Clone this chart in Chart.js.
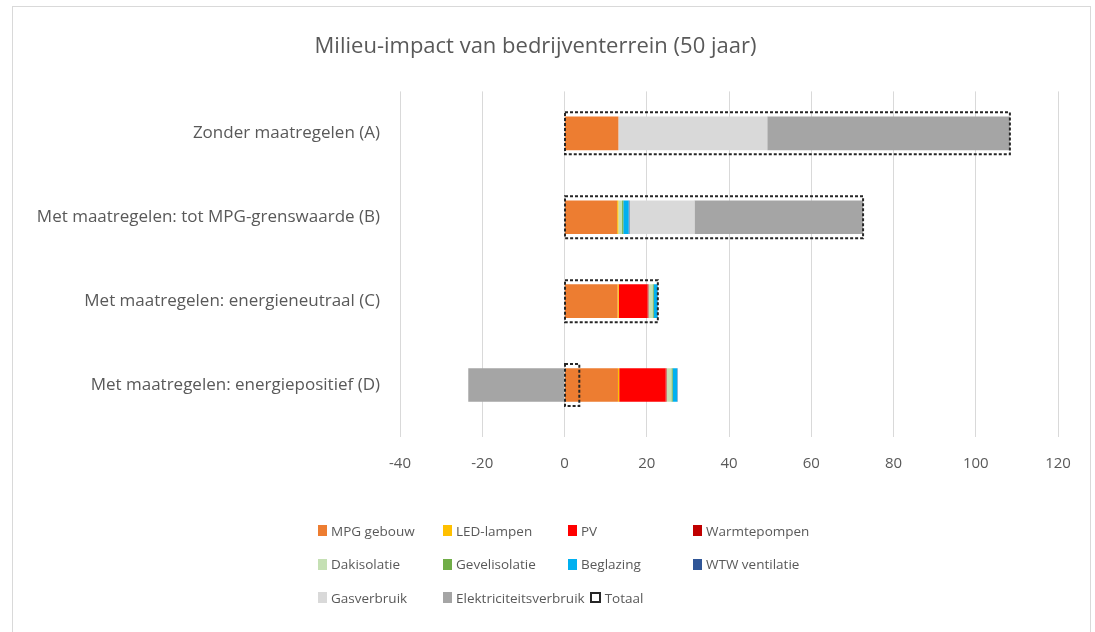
<!DOCTYPE html>
<html>
<head>
<meta charset="utf-8">
<script src="https://cdn.jsdelivr.net/npm/chart.js@4"></script>
<style>
  body { margin: 0; background: #fff; font-family: "Open Sans", sans-serif; }
  #frame { position: absolute; left: 12px; top: 6px; width: 1077px; height: 640px; border: 1px solid #d9d9d9; }
  #wrap { position: absolute; left: 0; top: 0; width: 1077px; height: 625px; }
  #legend { position: absolute; left: 305px; top: 507px; color: #595959; font-size: 13.5px; }
  .row { display: flex; height: 33.5px; align-items: center; }
  .item { display: flex; align-items: center; min-width: 125px; padding-right: 5px; box-sizing: border-box; white-space: nowrap; }
  .box { width: 9px; height: 11px; margin-right: 4px; box-sizing: border-box; }
</style>
</head>
<body>
<div id="frame">
  <div id="wrap"><canvas id="myChart"></canvas></div>
  <div id="legend"></div>
</div>
<script>
// categorieen en waarden
const categories = [
  "Zonder maatregelen (A)",
  "Met maatregelen: tot MPG-grenswaarde (B)",
  "Met maatregelen: energieneutraal (C)",
  "Met maatregelen: energiepositief (D)"
];
const mpgGebouw = [13.1, 12.8, 12.9, 13.0];
const ledLampen = [0, 0.3, 0.3, 0.3];
const pv = [0, 0, 7.0, 11.3];
const warmtepompen = [0, 0, 0.2, 0.2];
const dakisolatie = [0, 0.9, 1.0, 1.2];
const gevelisolatie = [0, 0.3, 0.3, 0.3];
const beglazing = [0, 1.3, 0.9, 1.1];
const wtwVentilatie = [0, 0.2, 0.1, 0.1];
const gasverbruik = [36.2, 15.8, 0, 0];
const elektriciteit = [59.0, 41.0, 0, -23.4];
const totaal = [108.3, 72.6, 22.7, 3.6];
const xTicks = [-40, -20, 0, 20, 40, 60, 80, 100, 120];

const series = [
  ["MPG gebouw", mpgGebouw, "#ED7D31"],
  ["LED-lampen", ledLampen, "#FFC000"],
  ["PV", pv, "#FF0000"],
  ["Warmtepompen", warmtepompen, "#C00000"],
  ["Dakisolatie", dakisolatie, "#C5E0B4"],
  ["Gevelisolatie", gevelisolatie, "#70AD47"],
  ["Beglazing", beglazing, "#00B0F0"],
  ["WTW ventilatie", wtwVentilatie, "#2F5597"],
  ["Gasverbruik", gasverbruik, "#D9D9D9"],
  ["Elektriciteitsverbruik", elektriciteit, "#A5A5A5"]
];

const datasets = [];
series.forEach(s => {
  datasets.push({
    label: s[0], data: s[1], backgroundColor: s[2],
    stack: "main", barPercentage: 0.4, categoryPercentage: 1
  });
});
datasets.push({
  label: "Totaal", data: totaal, backgroundColor: "rgba(0,0,0,0)",
  stack: "totaal", grouped: false, maxBarThickness: 42
});

// stippellijn rond totaal
const dashedTotal = {
  id: "dashedTotal",
  afterDatasetsDraw(chart) {
    const meta = chart.getDatasetMeta(datasets.length - 1);
    const ctx = chart.ctx;
    ctx.save();
    ctx.strokeStyle = "#262626";
    ctx.lineWidth = 2;
    ctx.setLineDash([3, 2]);
    meta.data.forEach(el => {
      const p = el.getProps(["x", "y", "base", "height"], true);
      const x0 = Math.min(p.x, p.base), x1 = Math.max(p.x, p.base);
      ctx.strokeRect(x0, p.y - p.height / 2, x1 - x0, p.height);
    });
    ctx.restore();
  }
};

new Chart("myChart", {
  type: "bar",
  data: { labels: categories, datasets: datasets },
  plugins: [dashedTotal],
  options: {
    indexAxis: "y",
    responsive: true,
    maintainAspectRatio: false,
    animation: false,
    layout: { padding: { top: 0, right: 32, bottom: 141, left: 0 } },
    plugins: {
      legend: { display: false },
      tooltip: { enabled: false },
      title: {
        display: true,
        text: "Milieu-impact van bedrijventerrein (50 jaar)",
        color: "#595959",
        font: { family: "Open Sans", size: 22, weight: "normal" },
        padding: { top: 27, bottom: 31 }
      }
    },
    scales: {
      x: {
        stacked: true,
        min: -40, max: 120,
        afterBuildTicks: s => { s.ticks = xTicks.map(v => ({ value: v })); },
        grid: { color: "#d9d9d9", tickLength: 10, tickColor: "#d9d9d9" },
        border: { display: false },
        ticks: { color: "#595959", padding: 18, font: { family: "Open Sans", size: 15 } }
      },
      y: {
        stacked: true,
        afterFit: s => { s.width = 387; },
        grid: { display: false },
        border: { display: false },
        ticks: { color: "#595959", padding: 12, font: { family: "Open Sans", size: 17 } }
      }
    }
  }
});

// legenda in rijen van vier, zoals in Excel
const legend = document.getElementById("legend");
const items = datasets.map(d => d.label);
let row;
items.forEach((label, i) => {
  if (i % 4 === 0) {
    row = document.createElement("div");
    row.className = "row";
    legend.appendChild(row);
  }
  const item = document.createElement("div");
  item.className = "item";
  const box = document.createElement("span");
  box.className = "box";
  if (label === "Totaal") {
    box.style.border = "2px dashed #262626";
    box.style.width = "11px";
  } else {
    box.style.background = datasets[i].backgroundColor;
  }
  item.appendChild(box);
  item.appendChild(document.createTextNode(label));
  row.appendChild(item);
});
</script>
</body>
</html>
